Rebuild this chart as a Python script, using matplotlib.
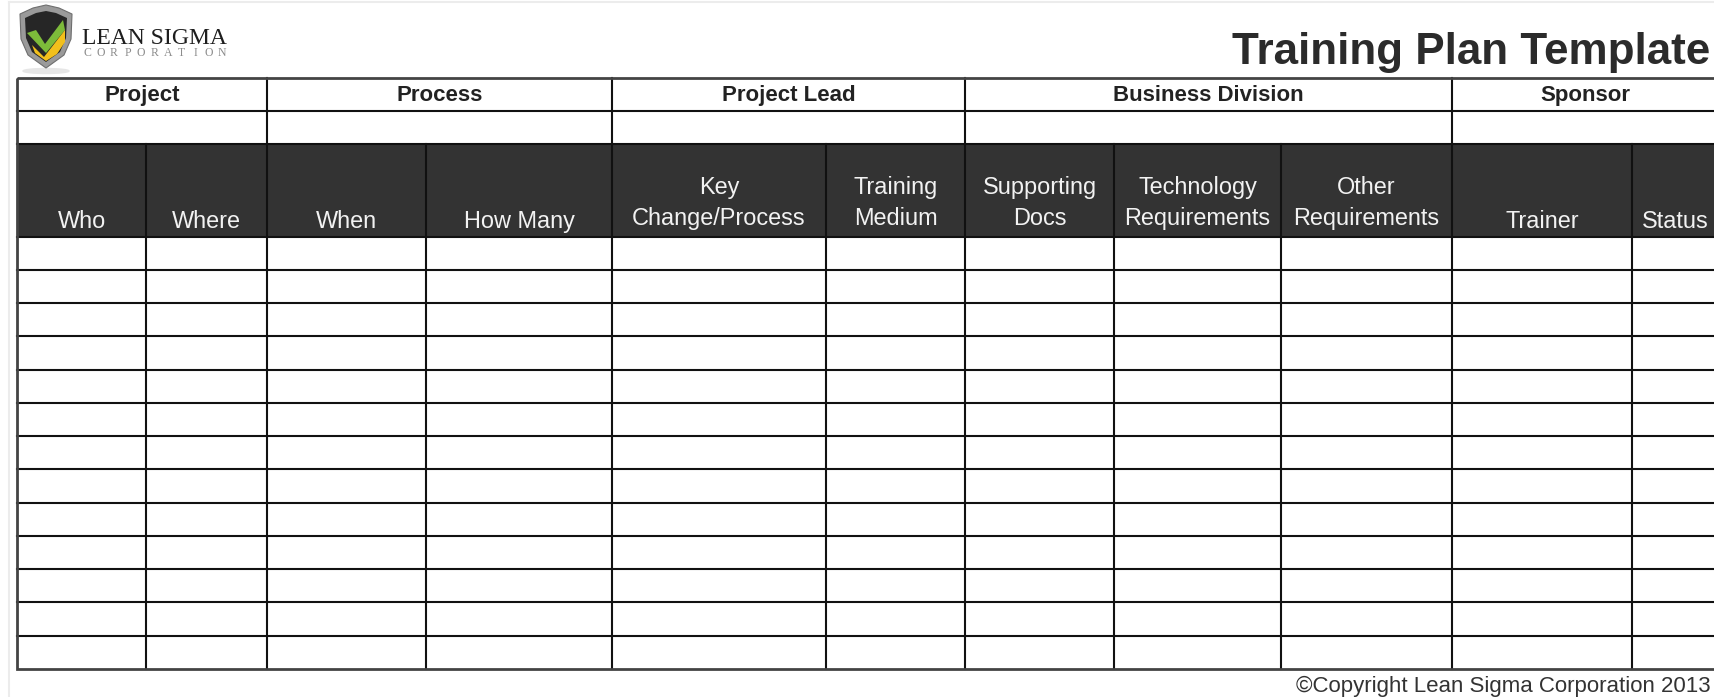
import numpy as np
import matplotlib.pyplot as plt
from matplotlib.patches import Polygon, Rectangle, Ellipse

# ---------------------------------------------------------------------------
# table content
group_labels = ['Project', 'Process', 'Project Lead', 'Business Division', 'Sponsor']
group_spans = [2, 2, 2, 3, 2]          # number of columns under each group
column_labels = ['Who', 'Where', 'When', 'How Many', 'Key\nChange/Process',
                 'Training\nMedium', 'Supporting\nDocs', 'Technology\nRequirements',
                 'Other\nRequirements', 'Trainer', 'Status']
n_rows = 13

title = 'Training Plan Template'
footer = '\u00a9Copyright Lean Sigma Corporation 2013'

# ---------------------------------------------------------------------------
# layout (pixels)
W, H = 1714, 697
col_edges = [17, 146.5, 267, 426, 612, 826, 965, 1114, 1281, 1452, 1632, 1718]
y_top, y_r1, y_r2, y_head = 77.5, 111, 144, 236.5
y_bot = 669
row_edges = np.linspace(y_head, y_bot, n_rows + 1)

dark = '#333333'
line_c = '#111111'
font = 'Liberation Sans'

fig = plt.figure(figsize=(W / 100, H / 100), dpi=100)
ax = fig.add_axes([0, 0, 1, 1])
ax.set_xlim(0, W)
ax.set_ylim(H, 0)
ax.axis('off')

# faint page frame
ax.plot([9, 9], [2, H], color='#ececec', lw=1.5)
ax.plot([9, W], [2, 2], color='#ececec', lw=1.5)

# ---------------------------------------------------------------------------
# logo
shield_out = [(20, 14), (33, 8), (46, 5), (59, 8), (72, 14), (71, 39),
              (64, 55), (46, 68), (28, 55), (21, 39)]
shield_in = [(25, 18), (36, 13), (46, 11), (56, 13), (67, 18), (66, 38),
             (60, 52), (46, 62), (32, 52), (26, 38)]
ax.add_patch(Ellipse((46, 71), 46, 5, color='#e6e6e6', zorder=1))
ax.add_patch(Polygon(shield_out, closed=True, fc='#9a9a9a', ec='#6e6e6e', lw=0.8, zorder=2))
ax.add_patch(Polygon(shield_in, closed=True, fc='#262626', ec='none', zorder=3))
ax.add_patch(Polygon([(27, 33), (36, 30), (45, 44), (63, 20), (65, 30), (46, 53)],
                     closed=True, fc='#7dbb3a', ec='none', zorder=4))
ax.add_patch(Polygon([(32, 45), (44, 57), (65, 30), (65, 42), (57, 54), (46, 61), (35, 53)],
                     closed=True, fc='#f2c01c', ec='none', zorder=4))
ax.text(82, 44, 'LEAN SIGMA', family='Liberation Serif', fontsize=17,
        color='#1e1e1e', ha='left', va='baseline')
for ch, x in zip('CORPORATION', np.linspace(87, 222, 11)):
    ax.text(x, 55.5, ch, family='Liberation Serif', fontsize=8.5,
            color='#8c8c8c', ha='center', va='baseline')

# title and footer
ax.text(1232, 64, title, family=font, fontsize=31.7, fontweight='bold',
        color='#2b2b2b', ha='left', va='baseline')
ax.text(1711, 692, footer, family=font, fontsize=16, color='#333333',
        ha='right', va='baseline')

# ---------------------------------------------------------------------------
# dark header band
ax.add_patch(Rectangle((col_edges[0], y_r2), col_edges[-1] - col_edges[0],
                       y_head - y_r2, fc=dark, ec='none', zorder=1))

# horizontal lines
for y in [y_r1, y_r2] + list(row_edges[:-1]):
    ax.plot([col_edges[0], col_edges[-1]], [y, y], color=line_c, lw=1.5, zorder=5)

# vertical lines: group boundaries in the top two rows
group_edges = np.cumsum([0] + group_spans)
for g in group_edges[1:-1]:
    x = col_edges[g]
    ax.plot([x, x], [y_top, y_r2], color=line_c, lw=1.5, zorder=5)
# every column boundary from the dark header down
for x in col_edges[1:-1]:
    ax.plot([x, x], [y_r2, y_bot], color=line_c, lw=1.5, zorder=5)

# outer frame
ax.add_patch(Rectangle((col_edges[0], y_top), col_edges[-1] - col_edges[0],
                       y_bot - y_top, fc='none', ec='#444444', lw=2.0, zorder=6))

# group labels
for i, lab in enumerate(group_labels):
    x0 = col_edges[group_edges[i]]
    x1 = col_edges[group_edges[i + 1]]
    ax.text((x0 + x1) / 2, (y_top + y_r1) / 2 + 1, lab, family=font, fontsize=16,
            fontweight='bold', color='#222222', ha='center', va='center')

# column labels
for i, lab in enumerate(column_labels):
    xc = (col_edges[i] + col_edges[i + 1]) / 2
    if '\n' in lab:
        yc = 202.7
    else:
        yc = 221.7
    ax.text(xc, yc, lab, family=font, fontsize=16.9, color='#f2f2f2',
            ha='center', va='center', linespacing=1.45)

fig.savefig('out.png', dpi=100)
